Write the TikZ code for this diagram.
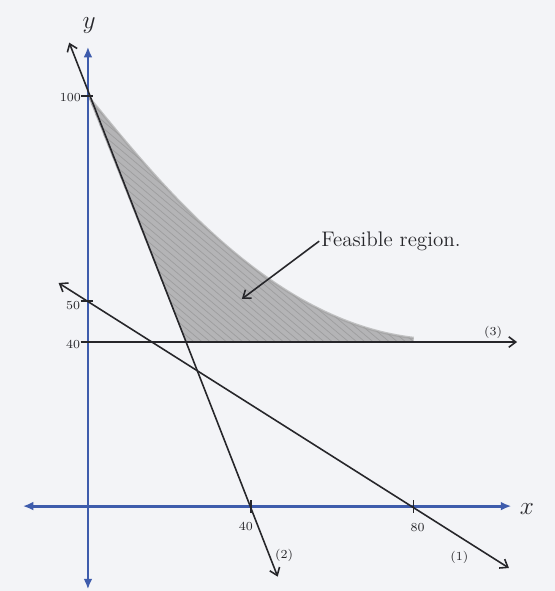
\documentclass[tikz,border=0pt]{standalone}
\usepackage{tikz}
\usepackage{xcolor}
\usetikzlibrary{arrows.meta, positioning, calc}
\definecolor{AxisBlue}{RGB}{62,92,172}
\definecolor{PaperGrey}{RGB}{243,244,247}
\definecolor{PencilDark}{RGB}{38,38,42}
\definecolor{PencilShade}{RGB}{180,180,182}

\begin{document}
\begin{tikzpicture}[x=0.0814cm, y=0.082cm,
    axis/.style={draw=AxisBlue, line width=1.6pt,
                 {Latex[length=6pt,width=5pt]}-{Latex[length=6pt,width=5pt]}},
    cline/.style={draw=PencilDark, line width=0.9pt},
    barb/.tip={Straight Barb[length=4pt,width=6pt]},
    tickmark/.style={draw=PencilDark, line width=0.8pt},
    lbl/.style={font=\scriptsize, text=PencilDark, inner sep=1pt},
    axlbl/.style={font=\Large, text=PencilDark}
  ]
  % paper
  \fill[PaperGrey] (-21.6,-20.7) rectangle (114.7,123.4);
  \useasboundingbox (-21.6,-20.7) rectangle (114.7,123.4);

  \coordinate (y100) at (0,100);
  \coordinate (y50) at (0,50);
  \coordinate (y40) at (0,40);
  \coordinate (x40) at (40,0);
  \coordinate (x80) at (80,0);
  \coordinate (P) at (24,40);
  \coordinate (Q) at (80,40);

  % feasible region
  \fill[PencilShade] (y100) -- (P) -- (Q) -- (80,41)
    .. controls (45,45) and (18,78) .. (y100) -- cycle;
  \begin{scope}
    \clip (y100) -- (P) -- (Q) -- (80,41)
      .. controls (45,45) and (18,78) .. (y100) -- cycle;
    \foreach \k in {0,2,...,130}
      \draw[gray!60!black, opacity=0.22, line width=0.4pt]
        (\k-60,112) -- ++(110,-92);
  \end{scope}
  \draw[gray!75, line width=1.4pt, opacity=0.6]
    (80,41) .. controls (45,45) and (18,78) .. (y100);

  % axes
  \draw[axis] (-16,0) -- (104,0);
  \draw[axis] (0,-20.3) -- (0,112);
  \node[axlbl] (xlab) at (107.8,-0.8) {$x$};
  \node[axlbl] (ylab) at (0.3,117.2) {$y$};

  % ticks
  \foreach \v in {100,50,40}
    \draw[tickmark] (-1.8,\v) -- (1.2,\v);
  \foreach \u in {40,80}
    \draw[tickmark] (\u,-1.6) -- (\u,1.6);
  \node[lbl, anchor=east] (l100) at (-1.2,99.6) {100};
  \node[lbl, anchor=east] (l50) at (-1.4,49) {50};
  \node[lbl, anchor=east] (l40) at (-1.4,39.3) {40};
  \node[lbl] (l40x) at (38.8,-5) {40};
  \node[lbl] (l80x) at (81,-5.3) {80};

  % constraint lines
  \coordinate (c1a) at (-7.2,54.4);
  \coordinate (c1b) at (103.4,-15.1);
  \coordinate (c2a) at (-4.6,113);
  \coordinate (c2b) at (46.6,-17.2);
  \coordinate (c3b) at (105.4,40);
  \draw[cline, {barb}-{barb}] (c1a) -- (c1b);
  \draw[cline, {barb}-{barb}] (c2a) -- (c2b);
  \draw[cline, -{barb}] (-1.5,40) -- (c3b);
  \node[lbl] (n1) at (91.2,-12.4) {(1)};
  \node[lbl] (n2) at (48.2,-12) {(2)};
  \node[lbl] (n3) at (99.5,42.4) {(3)};

  % label
  \node[anchor=west, font=\large, text=PencilDark, inner sep=1pt]
    (feas) at (56.8,64.6) {Feasible region.};
  \coordinate (tipF) at (37.8,50.5);
  \draw[cline, -{barb}] (feas.west) -- (tipF);
\end{tikzpicture}
\end{document}
